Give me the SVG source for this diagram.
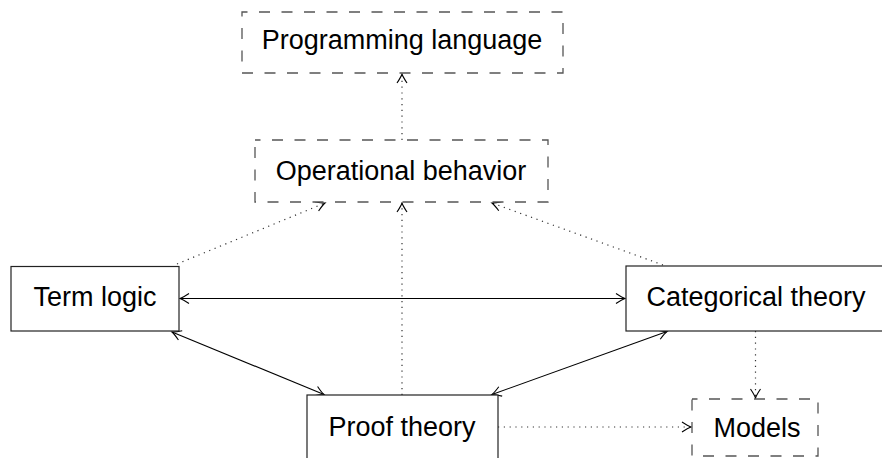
<svg xmlns="http://www.w3.org/2000/svg" width="882" height="458" viewBox="0 0 882 458">
<style>
.txt{font-family:"Liberation Sans",Arial,sans-serif;font-size:27px;fill:#000;text-anchor:middle}
.solid{fill:#fff;stroke:#222;stroke-width:1.2}
.dash{fill:#fff;stroke:#555;stroke-width:1.3;stroke-dasharray:11 11.5;stroke-dashoffset:5.5}
.edge{fill:none;stroke:#000;stroke-width:1.1}
.dot{fill:none;stroke:#333;stroke-width:1.2;stroke-dasharray:1.2 4.6}
</style>
<defs>
<marker id="to" markerUnits="userSpaceOnUse" markerWidth="14" markerHeight="14" viewBox="-11 -7 14 14" refX="0" refY="0" orient="auto-start-reverse">
<path d="M-9,-5 Q-3,-1 0,0 Q-3,1 -9,5" fill="none" stroke="#000" stroke-width="1.1"/>
</marker>
</defs>
<g id="connectors">
<path class="dot" d="M402,140 L402,74" marker-end="url(#to)"/>
<path class="dot" d="M402,395 L402,203" marker-end="url(#to)"/>
<path class="dot" d="M177,264 L325,203" marker-end="url(#to)"/>
<path class="dot" d="M663,265 L492,203" marker-end="url(#to)"/>
<path class="dot" d="M755.5,331 L755.5,398" marker-end="url(#to)"/>
<path class="dot" d="M498,427 L691,427" marker-end="url(#to)"/>
<path class="edge" d="M180,298.5 L625,298.5" marker-start="url(#to)" marker-end="url(#to)"/>
<path class="edge" d="M172,332 L324,394.5" marker-start="url(#to)" marker-end="url(#to)"/>
<path class="edge" d="M667,331.5 L492,394.5" marker-start="url(#to)" marker-end="url(#to)"/>
</g>
<g id="programming-language">
<rect class="dash" x="242" y="12" width="321" height="61"/>
<text class="txt" x="402" y="49">Programming language</text>
</g>
<g id="operational-behavior">
<rect class="dash" x="255" y="140" width="293" height="62"/>
<text class="txt" x="401" y="180">Operational behavior</text>
</g>
<g id="term-logic">
<rect class="solid" x="11" y="266.5" width="168" height="64.5"/>
<text class="txt" x="95" y="306">Term logic</text>
</g>
<g id="categorical-theory">
<rect class="solid" x="626" y="266" width="262" height="65"/>
<text class="txt" x="756" y="306">Categorical theory</text>
</g>
<g id="proof-theory">
<rect class="solid" x="307" y="395" width="191" height="70"/>
<text class="txt" x="402" y="436">Proof theory</text>
</g>
<g id="models">
<rect class="dash" x="692" y="399" width="126" height="57"/>
<text class="txt" x="757" y="437">Models</text>
</g>
</svg>
